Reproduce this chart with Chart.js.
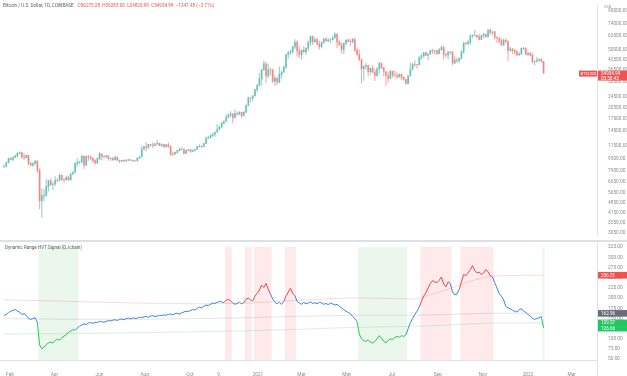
<!DOCTYPE html>
<html><head><meta charset="utf-8">
<script src="https://cdn.jsdelivr.net/npm/chart.js@4.4.1/dist/chart.umd.min.js"></script>
<style>
html,body{margin:0;padding:0;background:#fff;width:627px;height:376px;overflow:hidden}
canvas{position:absolute;left:0}
#top{top:0}
#bot{top:241px}
#sep{position:absolute;left:0;top:240px;width:627px;height:2px;background:#dde0e6}
</style></head><body>
<canvas id="top" width="627" height="241"></canvas>
<canvas id="bot" width="627" height="135"></canvas>
<div id="sep"></div>
<script>
// ---------- DATA ----------
const startDate = '2020-01-24';   // first 3-day candle
const stepDays = 3;
const firstOpen = 8400;
const closes = [
8440,8900,9500,
9340,9620,9900,10270,10360,9700,9600,9960,8800,8540,
8760,9120,7940,4970,5360,5400,6200,6750,6370,6420,
6800,6780,7340,6880,6850,7090,6850,7490,7690,8780,
8980,9020,9800,8570,9790,9680,9510,9180,8840,9420,
10200,9800,9750,9880,9470,9520,9300,9680,9250,9120,
9230,9130,9250,9280,9240,9130,9160,9530,9700,10940,11350,
11220,11760,11680,11570,11860,11970,11530,11750,11320,11700,
11400,10160,10120,10400,10680,10950,10920,10240,10720,10840,
10570,10790,10920,11380,11430,11370,11920,12930,13060,13460,
13740,14150,14830,15320,16310,16720,17800,18400,18730,17730,
18800,18650,19170,18330,19270,21310,23850,23830,24700,27080,28990,
32000,36800,40300,33400,36800,36600,30900,32300,30400,34300,
35500,38300,46400,47900,48600,52100,56000,48900,46300,
49600,48400,51200,55900,61200,56400,58300,54500,52300,55800,58800,
57100,57900,58200,59800,63200,56200,53800,50100,55000,57800,
56600,56400,58300,49500,46400,42900,37300,38800,39300,35700,
37600,35500,33600,37300,40500,38100,35800,33700,32200,35900,
33800,33700,32900,34200,32800,31800,29800,33600,37200,40000,
39800,39700,44600,45600,47800,45900,46800,49300,48900,49100,47100,
50000,51800,46400,46000,48100,48300,40700,42700,42200,43800,
48200,55300,54900,56000,61700,62000,62200,60900,58400,62000,
63200,61000,67500,64900,65500,60300,59700,57300,53600,57800,
56500,49400,50600,49400,48400,46200,46700,51000,50800,46500,
47300,45900,41600,41800,42600,43100,41700,34934.99];
const highs = [
8600,8980,9560,
9600,9750,9950,10380,10500,10380,10250,10000,9990,8980,
8900,9180,9150,8140,5980,5900,6900,6800,6950,6600,
7200,6980,7480,7350,7000,7280,7250,7550,7720,8950,
9470,9100,9990,9860,9880,9950,9880,9570,9300,9600,
10430,10200,9900,9990,9920,9550,9580,9790,9700,9250,
9260,9270,9370,9450,9320,9260,9200,9560,9730,11400,11450,
12100,11780,11800,12080,11950,12480,12000,11820,11800,11730,
12080,11450,10400,10450,10780,11100,11180,10930,10780,10950,
10900,10800,10960,11420,11720,11550,11950,13200,13350,13650,
13860,14250,15950,15620,16460,16870,18480,18800,19400,18900,
19900,19350,19420,19250,19400,21550,24250,24100,24800,27400,29300,
34800,36900,41950,41400,40100,37900,37300,33800,32900,38500,
35700,38700,46700,48600,49700,52600,58300,57500,52000,
49800,52600,51450,57200,61700,61500,60100,59300,57200,56600,59800,
60100,59500,58900,61300,64900,63800,57500,55500,55500,57900,
59000,58400,59500,59600,51400,49800,43400,39000,40800,39500,
37900,39300,36800,38000,41300,41000,38200,35800,35400,36600,
36000,35900,35100,34700,34600,33100,31900,33700,40500,40600,
42300,40000,44700,46500,48000,48100,47100,49400,50500,49600,49700,
51000,52900,52800,47400,48500,48800,48400,45000,44300,44100,
49200,55700,56100,58000,62800,62600,67000,62400,63700,62500,
64200,63300,67800,69000,66000,66300,60900,59900,59400,58900,
59000,57500,51900,50800,50500,49500,48000,51400,51800,52000,
48500,47900,47500,42300,44400,43500,43400,41800];
const lows = [
8250,8300,8850,
9250,9150,9600,9720,10150,9500,9300,9550,8600,8450,
8400,8700,7640,4400,3850,4950,5350,5760,6250,5860,
6260,6600,6780,6760,6560,6750,6800,6790,7410,7650,
8400,8720,8900,8120,8530,9200,9300,8930,8700,8800,
9350,9260,9550,9580,9230,9200,9210,9240,9120,8900,
9000,9050,9080,9150,9180,9090,9080,9150,9500,9700,10900,
10650,11100,11450,11150,11500,11680,11500,11380,11150,11300,
11200,9900,9900,10100,10250,10650,10800,10150,10200,10650,
10400,10520,10560,10900,11300,11200,11350,11900,12900,12900,
13250,13300,14150,14700,15150,15870,16700,17650,18000,16300,
17500,18300,18550,17650,18050,19100,21250,22400,22800,24700,26300,
28700,29000,36300,30300,32400,33900,30100,28800,29300,30000,
32300,35300,37400,43700,46200,47000,50700,45000,44200,
43000,47500,46300,49300,53100,54000,56000,53700,50400,51200,55000,
56900,56200,55500,57900,59400,51500,53300,47500,47000,53300,
56000,53400,55300,48600,46000,42200,30000,31200,37000,33400,
34200,35000,31100,33300,34800,37300,33400,28800,30200,32000,
32700,33300,32200,32800,31600,31200,29300,29500,33400,36500,
38600,37500,39500,43000,44200,45500,42800,46700,47000,46400,46500,
46700,49500,43000,44700,43400,46700,39600,40300,40900,40800,
43300,47100,53600,53700,54000,59800,61500,59600,58100,58000,
60100,60100,60800,62800,62400,58600,55600,55300,53600,53300,
55900,42000,48600,46900,46300,45500,45600,46500,50000,46100,
45700,45600,40600,39600,41600,41700,41100,34800];

// indicator (one value per candle)
const signal = [
158,160,165,168,170,172,168,166,160,162,158,150,148,150,152,140,
85,76,80,86,90,92,90,96,99,97,103,107,110,116,119,123,121,127,
131,
134,137,135,139,140,138,141,140,143,142,141,
143,145,144,146,147,145,148,149,147,150,151,149,152,150,151,
153,152,154,155,153,156,157,155,156,158,157,159,158,160,161,159,162,163,161,164,
166,168,167,170,172,171,175,178,176,180,183,182,185,188,187,
190,192,191,189,
195,197,194,
188,185,187,190,186,189,
198,200,196,
193,
205,212,220,232,226,236,222,210,
198,190,186,190,185,192,
205,215,224,212,206,
192,188,185,190,186,188,191,187,189,186,190,188,185,187,184,188,186,183,185,
180,176,172,168,165,162,
155,150,
142,
112,100,96,94,98,92,90,94,100,108,102,94,90,96,100,98,104,106,104,108,106,110,
125,140,150,160,168,178,
192,205,213,225,236,243,240,238,244,252,235,228,240,236,
215,208,210,222,
240,258,255,262,270,280,268,262,264,258,262,270,265,255,252,
238,225,212,205,196,180,176,174,170,168,166,172,174,168,165,160,156,150,148,150,152,155,
126.66];
const bandIdx   = [0, 30, 60, 90, 110, 130, 156, 186, 200, 210, 220, 243];
const upperBand = [196, 192, 188, 186, 188, 194, 201, 198, 222, 242, 255, 256.51];
const midBand   = [150, 148, 148, 150, 152, 155, 158, 158, 160, 162, 163, 162.96];
const lowerBand = [112, 113, 115, 118, 120, 123, 128, 131, 134, 137, 139, 139.57];
const redZones   = [[100,102],[109,111],[113,120],[127,131],[188,201],[206,220]];
const greenZones = [[16,33],[160,181],[243,243]];

const priceTicks  = [3050,3550,4150,4850,5650,6650,7900,9500,11500,14500,17500,20500,24500,30500,36500,42500,50000,62000,74000,90000];
const signalTicks = [50,75,100,125,150,175,200,225,250,275,300,325];
const monthLabels = ['Feb','Apr','Jun','Aug','Oct','9','2021','Mar','May','Jul','Sep','Nov','2022','Mar'];
const monthDates  = ['2020-02-01','2020-04-01','2020-06-01','2020-08-01','2020-10-01','2020-11-09','2021-01-01','2021-03-01','2021-05-01','2021-07-01','2021-09-01','2021-11-01','2022-01-01','2022-03-01'];

// ---------- helpers ----------
const dayNum = s => { const [y,m,d] = s.split('-').map(Number); return (Date.UTC(y,m-1,d) - Date.UTC(2020,0,1)) / 86400000; };
const d0 = dayNum(startDate);
const candleDay = i => d0 + i * stepDays;
const opens = closes.map((c,i) => i === 0 ? firstOpen : closes[i-1]);
const UP = 'rgba(38,166,154,0.48)', DN = 'rgba(239,83,80,0.48)';
const cCol = closes.map((c,i) => c >= opens[i] ? UP : DN);
const X_MIN = 17.49, X_MAX = 824.2;
const FONT = 'Roboto, "Liberation Sans", sans-serif';
const AXIS_TXT = '#8a8d97';
const tickDays = monthDates.map(dayNum);

function zoneOf(i){
  for (const z of redZones) if (i >= z[0] && i <= z[1]) return 'red';
  for (const z of greenZones) if (i >= z[0] && i <= z[1]) return 'green';
  return 'blue';
}
const LINE = {blue:'#3a82e4', red:'#e5484d', green:'#25c85a'};

function labelBox(ctx, x, y, w, h, bg, lines){
  ctx.fillStyle = bg; ctx.fillRect(x, y, w, h);
  ctx.fillStyle = '#fff'; ctx.font = '4.6px ' + FONT; ctx.textBaseline = 'middle'; ctx.textAlign = 'left';
  lines.forEach((t,k) => ctx.fillText(t, x + 3, y + 3.6 + k * 4.6));
}

// ---------- TOP: candles ----------
new Chart(document.getElementById('top'), {
  type: 'bar',
  data: { datasets: [
    { data: closes.map((c,i) => ({x: candleDay(i), y: [lows[i], highs[i]]})), backgroundColor: cCol, barThickness: 0.5, grouped: false, order: 2 },
    { data: closes.map((c,i) => ({x: candleDay(i), y: [opens[i], c]})), backgroundColor: cCol, barThickness: 1.2, grouped: false, order: 1 }
  ]},
  options: {
    responsive: false, animation: false, events: [],
    layout: { padding: 0, autoPadding: false },
    plugins: { legend: {display:false}, tooltip: {enabled:false} },
    scales: {
      x: { type: 'linear', min: X_MIN, max: X_MAX, offset: false, display: false },
      y: { type: 'logarithmic', position: 'right', min: 2942, max: 97520,
           afterFit: s => { s.width = 30; },
           afterBuildTicks: s => { s.ticks = priceTicks.map(v => ({value: v})); },
           ticks: { autoSkip: false, padding: 3, color: AXIS_TXT, font: {size: 4.8, family: FONT}, callback: v => Number(v).toFixed(2) },
           grid: { display: false }, border: { color: '#dfe2e8' } }
    }
  },
  plugins: [{
    id: 'topText',
    afterDraw(chart){
      const ctx = chart.ctx, y = chart.scales.y;
      ctx.save();
      ctx.font = '4.6px ' + FONT; ctx.textBaseline = 'middle'; ctx.textAlign = 'left';
      ctx.fillStyle = '#5d606b';
      const t1 = 'Bitcoin / U.S. Dollar, 1D, COINBASE';
      ctx.fillText(t1, 3, 6);
      ctx.fillStyle = '#ef5350';
      ctx.fillText('O36275.28  H36283.00  L34820.99  C34934.99  \u22121347.48 (\u22123.71%)', 3 + ctx.measureText(t1).width + 4, 6);
      ctx.fillStyle = AXIS_TXT; ctx.font = '3.8px ' + FONT;
      ctx.fillText('USD', 604, 7.5);
      const last = closes[closes.length - 1];
      const py = y.getPixelForValue(last);
      labelBox(ctx, 598, py - 2.5, 29, 10, '#ef5350', [last.toFixed(2), '03:50:43']);
      ctx.fillStyle = '#ef5350'; ctx.fillRect(579, py - 2.5, 18, 6);
      ctx.fillStyle = '#fff'; ctx.font = '4.2px ' + FONT; ctx.fillText('BTCUSD', 580.5, py + 0.6);
      ctx.restore();
    }
  }]
});

// ---------- BOTTOM: signal ----------
const sparse = arr => bandIdx.map((k,j) => ({x: candleDay(k), y: arr[j]}));
new Chart(document.getElementById('bot'), {
  type: 'line',
  data: { datasets: [
    { data: signal.map((v,i) => ({x: candleDay(i), y: v})), borderWidth: 1, pointRadius: 0, borderColor: LINE.blue,
      segment: { borderColor: c => LINE[zoneOf(c.p1DataIndex)] }, order: 1 },
    { data: sparse(upperBand), borderWidth: 0.8, pointRadius: 0, borderColor: 'rgba(229,72,77,0.25)', order: 2 },
    { data: sparse(midBand),   borderWidth: 0.8, pointRadius: 0, borderColor: 'rgba(120,123,134,0.25)', order: 3 },
    { data: sparse(lowerBand), borderWidth: 0.8, pointRadius: 0, borderColor: 'rgba(37,200,90,0.25)', order: 4 }
  ]},
  options: {
    responsive: false, animation: false, events: [],
    layout: { padding: { top: 1, left: 0, right: 0, bottom: 0 }, autoPadding: false },
    plugins: { legend: {display:false}, tooltip: {enabled:false} },
    scales: {
      x: { type: 'linear', min: X_MIN, max: X_MAX, offset: false,
           afterFit: s => { s.height = 16; },
           afterBuildTicks: s => { s.ticks = tickDays.map(v => ({value: v})); },
           ticks: { autoSkip: false, maxRotation: 0, padding: 4, color: AXIS_TXT, font: {size: 4.8, family: FONT},
                    callback: v => monthLabels[tickDays.indexOf(v)] },
           grid: { display: false }, border: { color: '#dfe2e8' } },
      y: { type: 'linear', position: 'right', min: 48.2, max: 325.9,
           afterFit: s => { s.width = 30; },
           afterBuildTicks: s => { s.ticks = signalTicks.map(v => ({value: v})); },
           ticks: { autoSkip: false, padding: 3, color: AXIS_TXT, font: {size: 4.8, family: FONT}, callback: v => Number(v).toFixed(2) },
           grid: { display: false }, border: { color: '#dfe2e8' } }
    }
  },
  plugins: [{
    id: 'bands',
    beforeDatasetsDraw(chart){
      const ctx = chart.ctx, xs = chart.scales.x, a = chart.chartArea;
      ctx.save();
      const draw = (zones, col) => zones.forEach(z => {
        const x0 = xs.getPixelForValue(candleDay(z[0]) - stepDays/2);
        const x1 = xs.getPixelForValue(candleDay(z[1]) + stepDays/2);
        ctx.fillStyle = col; ctx.fillRect(x0, a.top, x1 - x0, a.bottom - a.top);
      });
      draw(redZones, 'rgba(242,54,69,0.11)');
      draw(greenZones, 'rgba(76,175,80,0.11)');
      ctx.restore();
    },
    afterDraw(chart){
      const ctx = chart.ctx, y = chart.scales.y;
      ctx.save();
      ctx.font = '4.6px ' + FONT; ctx.textBaseline = 'middle'; ctx.textAlign = 'left';
      ctx.fillStyle = '#5d606b';
      ctx.fillText('Dynamic Range HVT Signal (D, lchain)', 5, 7);
      const box = (v, col) => labelBox(ctx, 598, y.getPixelForValue(v) - 3.2, 29, 6.6, col, [v.toFixed(2)]);
      box(upperBand[upperBand.length-1], '#ef5350');
      box(midBand[midBand.length-1], '#6a6d78');
      box(lowerBand[lowerBand.length-1], '#22c55e');
      box(signal[signal.length-1], '#1ecb63');
      ctx.strokeStyle = '#dfe2e8'; ctx.lineWidth = 1;
      ctx.beginPath(); ctx.moveTo(597.5, 0); ctx.lineTo(597.5, 135); ctx.stroke();
      ctx.restore();
    }
  }]
});
</script></body></html>
